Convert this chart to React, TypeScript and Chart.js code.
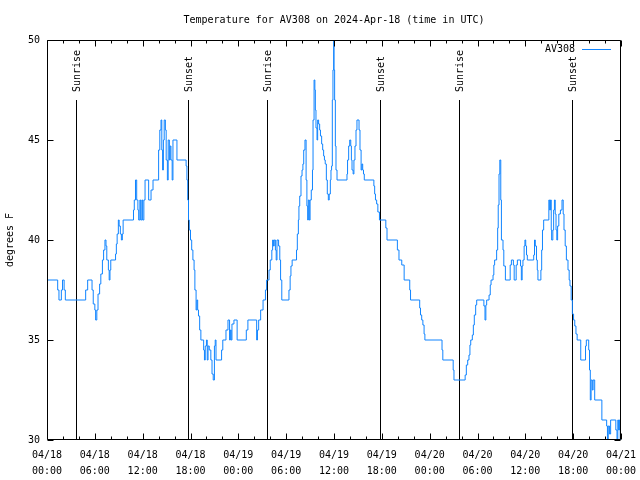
import React, { useEffect, useRef } from "react";
import { Chart, registerables } from "chart.js";

Chart.register(...registerables);

// ---- data (hours since 2024-04-18 00:00 UTC, temperature °F) ----
const hours = [
  0, 1.34, 1.5, 1.8, 1.95, 2.15, 2.3, 4.85, 5.1, 5.65, 5.8, 6.0, 6.1, 6.25, 6.4, 6.6, 6.75, 6.95, 7.1, 7.27,
  7.4, 7.5, 7.7, 7.8, 7.9, 8.0, 8.6, 8.7, 8.8, 8.95, 9.05, 9.2, 9.33, 9.45, 9.55, 10.85, 10.95, 11.1, 11.25, 11.4,
  11.5, 11.65, 11.75, 11.9, 12.0, 12.15, 12.3, 12.75, 13.05, 13.3, 14.0, 14.15, 14.3, 14.4, 14.5, 14.6, 14.7, 14.85, 14.95, 15.1,
  15.2, 15.35, 15.45, 15.55, 15.7, 15.8, 16.3, 17.45, 17.55, 17.65, 17.75, 17.85, 18.0, 18.15, 18.3, 18.45, 18.55, 18.7, 18.8, 18.9,
  19.0, 19.15, 19.3, 19.65, 19.75, 19.85, 20.0, 20.1, 20.2, 20.35, 20.55, 20.7, 20.85, 21.0, 21.1, 21.2, 21.9, 22.05, 22.45, 22.7,
  22.9, 23.0, 23.1, 23.2, 23.45, 23.85, 25.0, 25.2, 26.3, 26.4, 26.55, 26.8, 27.1, 27.4, 27.55, 27.85, 28.0, 28.2, 28.3, 28.4,
  28.5, 28.65, 28.75, 28.85, 29.05, 29.2, 29.3, 29.45, 30.35, 30.5, 30.6, 30.75, 31.3, 31.4, 31.53, 31.6, 31.7, 31.86, 31.99, 32.1,
  32.2, 32.36, 32.5, 32.6, 32.7, 32.78, 32.9, 33.0, 33.15, 33.3, 33.37, 33.5, 33.6, 33.66, 33.74, 33.87, 33.95, 34.07, 34.2, 34.3,
  34.45, 34.58, 34.7, 34.8, 34.9, 35.04, 35.16, 35.29, 35.4, 35.54, 35.62, 35.7, 35.79, 35.87, 35.96, 36.0, 36.08, 36.17, 36.25, 36.38,
  37.63, 37.7, 37.84, 37.97, 38.1, 38.18, 38.26, 38.4, 38.5, 38.63, 38.76, 38.88, 39.14, 39.26, 39.4, 39.5, 39.6, 39.7, 39.8, 41.0,
  41.1, 41.2, 41.35, 41.5, 41.7, 42.5, 42.65, 43.95, 44.15, 44.5, 44.8, 45.5, 45.6, 46.75, 46.85, 47.0, 47.15, 47.3, 47.4, 49.55,
  49.65, 50.95, 51.05, 52.45, 52.6, 52.77, 52.93, 53.05, 53.15, 53.35, 53.48, 53.6, 53.77, 53.9, 54.8, 54.94, 55.05, 55.15, 55.45, 55.6,
  55.7, 55.95, 56.05, 56.15, 56.4, 56.53, 56.6, 56.7, 56.8, 56.92, 57.0, 57.2, 57.3, 57.5, 58.1, 58.25, 58.5, 58.6, 58.85, 59.0,
  59.4, 59.5, 59.6, 59.7, 59.85, 59.95, 60.05, 60.15, 60.25, 61.05, 61.15, 61.25, 61.4, 61.5, 61.58, 61.95, 62.05, 62.15, 62.3, 62.95,
  63.05, 63.15, 63.25, 63.3, 63.45, 63.55, 63.65, 63.75, 63.85, 63.95, 64.05, 64.2, 64.4, 64.6, 64.75, 64.85, 65.0, 65.15, 65.35, 65.5,
  65.6, 65.75, 65.9, 66.05, 66.2, 66.35, 66.5, 66.95, 67.55, 67.65, 67.95, 68.05, 68.15, 68.25, 68.4, 68.5, 68.7, 69.6, 70.2, 70.3,
  70.4, 70.55, 70.7, 71.35, 71.5, 71.6, 71.7, 71.8, 71.9, 72.0,
];

const temps = [
  38, 37.5, 37, 37.5, 38, 37.5, 37, 37.5, 38, 37.5, 36.8, 36.5, 36, 36.5, 37.3, 37.8, 38.3, 39, 39.5, 40,
  39.7, 39, 38.5, 38, 38.5, 39, 39.3, 39.8, 40.3, 41, 40.7, 40.3, 40, 40.3, 41, 41.5, 42, 43, 42, 41.5,
  41, 42, 41, 42, 41, 42, 43, 42, 42.5, 43, 44.5, 45.5, 46, 44.5, 43.5, 45, 46, 45.5, 44, 43,
  45, 44, 44.7, 44, 43, 45, 44, 43.7, 43, 42, 41, 40.5, 40, 39.5, 39, 38.5, 37.5, 36.5, 37, 36.5,
  36.2, 35.5, 35, 34.5, 34, 34.7, 35, 34, 34.7, 34.5, 34, 33.3, 33, 34.7, 35, 34, 34.5, 35, 35.5, 36,
  35, 35.5, 35, 35.8, 36, 35, 35.5, 36, 35, 35.5, 36, 36.5, 37, 37.5, 38, 38.5, 39, 39.5, 40, 39.7,
  40, 39.5, 39, 40, 39.7, 39, 38, 37, 37.5, 38.2, 38.7, 39, 39.5, 40.3, 41, 41.7, 42.2, 43.2, 43.5, 43.8,
  44.5, 45, 43, 41.7, 41, 42, 41, 42, 42.5, 43.5, 46, 48, 47.5, 46.5, 45.6, 45, 46, 45.8, 45.5, 45.2,
  44.8, 44.5, 44.2, 44, 43.8, 43, 42.3, 42, 42.3, 43, 43.5, 43.7, 47, 48.5, 50, 48.5, 47, 44.7, 43.5, 43,
  43.3, 44, 44.7, 45, 44.7, 44, 43.5, 43.3, 44, 44.7, 45.5, 46, 45.5, 44.5, 43.5, 43.8, 43.5, 43.3, 43, 42.7,
  42.3, 42, 41.8, 41.4, 41, 40.6, 40, 39.5, 39, 38.75, 38, 37.5, 37, 36.6, 36.25, 36, 35.75, 35.3, 35, 34.5,
  34, 33.5, 33, 33.25, 33.75, 34, 34.25, 34.75, 35, 35.25, 35.75, 36.25, 36.75, 37, 36.7, 36, 36.75, 37, 37.25, 37.75,
  38, 38.25, 38.75, 39, 39.5, 40.6, 41.75, 43.3, 44, 42, 40, 39.5, 38.7, 38, 38.75, 39, 38.75, 38, 38.75, 39,
  38.7, 38, 38.7, 39, 39.7, 40, 39.7, 39.25, 39, 39.25, 40, 39.7, 39, 38.5, 38, 38.5, 39.5, 40.5, 41, 42,
  41.5, 42, 40.5, 40, 40.5, 41.5, 42, 41.3, 40.5, 40, 40.7, 41.3, 41.5, 42, 41.3, 40.5, 39.7, 39, 38.5, 38,
  37.7, 37, 36.3, 36, 35.7, 35.3, 35, 34, 34.7, 35, 34.5, 33.5, 32, 33, 32.5, 33, 32, 31, 30.7, 30,
  30.7, 30.3, 31, 30.5, 30, 31, 30.5, 31, 30, 30.5,
];

const seriesName = "AV308";
const titleText = "Temperature for AV308 on 2024-Apr-18 (time in UTC)";
const yAxisTitle = "degrees F";

const yTickValues = [30, 35, 40, 45, 50];
const xTickHours = [0, 6, 12, 18, 24, 30, 36, 42, 48, 54, 60, 66, 72];
const xTickDates = ["04/18", "04/18", "04/18", "04/18", "04/19", "04/19", "04/19", "04/19", "04/20", "04/20", "04/20", "04/20", "04/21"];
const xTickTimes = ["00:00", "06:00", "12:00", "18:00", "00:00", "06:00", "12:00", "18:00", "00:00", "06:00", "12:00", "18:00", "00:00"];

const sunLabels = ["Sunrise", "Sunset", "Sunrise", "Sunset", "Sunrise", "Sunset"];
const sunHours = [3.66, 17.72, 27.64, 41.82, 51.62, 65.9];

const FAMILY = '"DejaVu Sans Mono", "Liberation Mono", monospace';
const FONT = `10px ${FAMILY}`;
const LINE_COLOR = "rgb(16,132,255)";

const framePlugin = {
  id: "gnuframe",
  beforeDatasetsDraw(chart: any) {
    const { ctx, chartArea: a, scales } = chart;
    const x = scales.x;
    const h = a.bottom - a.top;
    ctx.save();
    ctx.strokeStyle = "#000";
    ctx.fillStyle = "#000";
    ctx.lineWidth = 1;
    ctx.font = FONT;
    // title centred over the plot area
    ctx.textAlign = "center";
    ctx.textBaseline = "middle";
    ctx.fillText(titleText, (a.left + a.right) / 2, a.top - 20);
    sunHours.forEach((t, i) => {
      const px = Math.round(x.getPixelForValue(t)) + 0.5;
      ctx.beginPath();
      ctx.moveTo(px, a.bottom);
      ctx.lineTo(px, a.bottom - h * 0.85);
      ctx.stroke();
      ctx.save();
      ctx.translate(px + 1, a.bottom - h * 0.87);
      ctx.rotate(-Math.PI / 2);
      ctx.textAlign = "left";
      ctx.textBaseline = "middle";
      ctx.fillText(sunLabels[i], 0, 0);
      ctx.restore();
    });
    ctx.restore();
  },
  afterDraw(chart: any) {
    const { ctx, chartArea: a, scales } = chart;
    const x = scales.x;
    const y = scales.y;
    ctx.save();
    ctx.strokeStyle = "#000";
    ctx.lineWidth = 1;
    const L = Math.round(a.left) + 0.5;
    const R = Math.round(a.right) - 0.5;
    const T = Math.round(a.top) + 0.5;
    const B = Math.round(a.bottom) - 0.5;
    ctx.beginPath();
    ctx.rect(L, T, R - L, B - T);
    ctx.stroke();
    ctx.beginPath();
    yTickValues.forEach((v) => {
      const py = Math.round(y.getPixelForValue(v)) + 0.5;
      ctx.moveTo(L, py);
      ctx.lineTo(L + 6, py);
      ctx.moveTo(R, py);
      ctx.lineTo(R - 6, py);
    });
    for (let t = 0; t <= 72; t += 2) {
      const px = Math.round(x.getPixelForValue(t)) + 0.5;
      const len = t % 6 === 0 ? 6 : 3;
      ctx.moveTo(px, B);
      ctx.lineTo(px, B - len);
      ctx.moveTo(px, T);
      ctx.lineTo(px, T + len);
    }
    ctx.stroke();
    // legend
    const ly = Math.round(a.top + 9) + 0.5;
    ctx.font = FONT;
    ctx.fillStyle = "#000";
    ctx.textAlign = "right";
    ctx.textBaseline = "middle";
    ctx.fillText(seriesName, a.right - 46, ly);
    ctx.strokeStyle = LINE_COLOR;
    ctx.beginPath();
    ctx.moveTo(a.right - 39, ly);
    ctx.lineTo(a.right - 10, ly);
    ctx.stroke();
    ctx.restore();
  },
};

export default function App() {
  const ref = useRef<HTMLCanvasElement | null>(null);
  useEffect(() => {
    document.body.style.margin = "0";
    if (!ref.current) return;
    Chart.defaults.color = "#000";
    const chart = new Chart(ref.current, {
      type: "line",
      data: {
        datasets: [
          {
            label: seriesName,
            data: hours.map((h, i) => ({ x: h, y: temps[i] })),
            borderColor: LINE_COLOR,
            borderWidth: 1,
            pointRadius: 0,
            stepped: "before",
            tension: 0,
          },
        ],
      },
      options: {
        animation: false,
        responsive: false,
        devicePixelRatio: 1,
        layout: { padding: { top: 40, right: 19, left: 0, bottom: 0 } },
        plugins: {
          legend: { display: false },
          tooltip: { enabled: false },
          title: { display: false },
        },
        scales: {
          x: {
            type: "linear",
            min: 0,
            max: 72,
            grid: { display: false, drawTicks: false },
            border: { display: false },
            afterFit: (s: any) => {
              s.height = 40;
              s.paddingLeft = 0;
              s.paddingRight = 0;
            },
            afterBuildTicks: (s: any) => {
              s.ticks = xTickHours.map((v) => ({ value: v }));
            },
            ticks: {
              autoSkip: false,
              maxRotation: 0,
              minRotation: 0,
              padding: 7,
              color: "#000",
              font: { family: FAMILY, size: 10, lineHeight: "16px" },
              callback: (_v: any, i: number) => [xTickDates[i], xTickTimes[i]],
            },
          },
          y: {
            min: 30,
            max: 50,
            grid: { display: false, drawTicks: false },
            border: { display: false },
            afterFit: (s: any) => {
              s.width = 47;
            },
            afterBuildTicks: (s: any) => {
              s.ticks = yTickValues.map((v) => ({ value: v }));
            },
            ticks: {
              padding: 7,
              color: "#000",
              font: { family: FAMILY, size: 10 },
              callback: (v: any) => String(v),
            },
            title: {
              display: true,
              text: yAxisTitle,
              color: "#000",
              font: { family: FAMILY, size: 10 },
              padding: { top: 4, bottom: 0 },
            },
          },
        },
      },
      plugins: [framePlugin],
    } as any);
    return () => chart.destroy();
  }, []);
  return (
    <div style={{ width: 640, height: 480, background: "#fff" }}>
      <canvas ref={ref} width={640} height={480} style={{ display: "block" }} />
    </div>
  );
}
